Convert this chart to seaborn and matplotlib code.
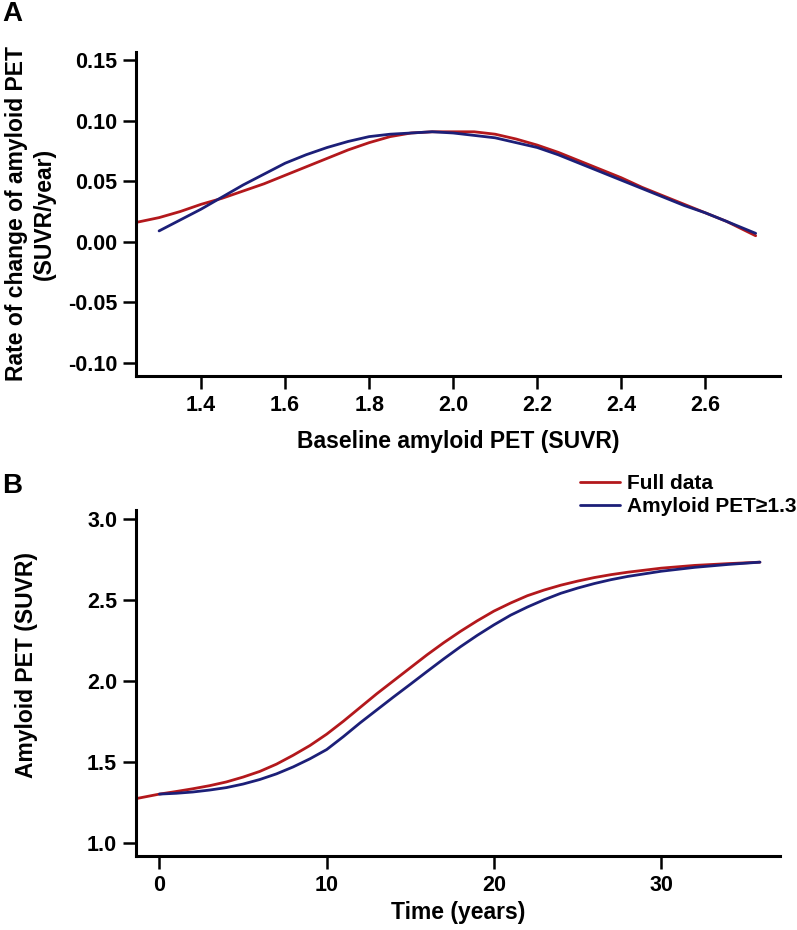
import pandas as pd
import seaborn as sns
import matplotlib.pyplot as plt

# Panel A: rate of change vs baseline amyloid PET
base_full = [1.245, 1.30, 1.35, 1.40, 1.45, 1.50, 1.55, 1.60, 1.65, 1.70, 1.75, 1.80,
             1.85, 1.90, 1.95, 2.00, 2.05, 2.10, 2.15, 2.20, 2.25, 2.30, 2.35, 2.40,
             2.45, 2.50, 2.55, 2.60, 2.65, 2.72]
rate_full = [0.016, 0.020, 0.025, 0.031, 0.036, 0.042, 0.048, 0.055, 0.062, 0.069, 0.076, 0.082,
             0.087, 0.090, 0.091, 0.091, 0.091, 0.089, 0.085, 0.080, 0.074, 0.067, 0.060, 0.053,
             0.045, 0.038, 0.031, 0.024, 0.017, 0.005]
base_sub = [1.30, 1.35, 1.40, 1.45, 1.50, 1.55, 1.60, 1.65, 1.70, 1.75, 1.80, 1.85,
            1.90, 1.95, 2.00, 2.05, 2.10, 2.15, 2.20, 2.25, 2.30, 2.35, 2.40, 2.45,
            2.50, 2.55, 2.60, 2.65, 2.72]
rate_sub = [0.009, 0.018, 0.027, 0.037, 0.047, 0.056, 0.065, 0.072, 0.078, 0.083, 0.087, 0.089,
            0.090, 0.091, 0.090, 0.088, 0.086, 0.082, 0.078, 0.072, 0.065, 0.058, 0.051, 0.044,
            0.037, 0.030, 0.024, 0.017, 0.007]

# Panel B: amyloid PET trajectory over time
time_full = [-1.4, 0, 1, 2, 3, 4, 5, 6, 7, 8, 9, 10, 11, 12, 13, 14, 15, 16, 17, 18,
             19, 20, 21, 22, 23, 24, 25, 26, 27, 28, 30, 32, 34, 35.9]
pet_full = [1.272, 1.300, 1.316, 1.333, 1.352, 1.375, 1.405, 1.440, 1.485, 1.540, 1.600,
            1.670, 1.750, 1.835, 1.920, 2.000, 2.080, 2.160, 2.235, 2.305, 2.370, 2.430,
            2.480, 2.525, 2.560, 2.590, 2.615, 2.637, 2.655, 2.670, 2.695, 2.712, 2.723, 2.732]
time_sub = [0, 1, 2, 3, 4, 5, 6, 7, 8, 9, 10, 11, 12, 13, 14, 15, 16, 17, 18,
            19, 20, 21, 22, 23, 24, 25, 26, 27, 28, 30, 32, 34, 35.9]
pet_sub = [1.300, 1.305, 1.313, 1.325, 1.340, 1.362, 1.390, 1.425, 1.468, 1.518, 1.575,
           1.655, 1.740, 1.820, 1.900, 1.978, 2.057, 2.135, 2.210, 2.280, 2.345, 2.405,
           2.455, 2.500, 2.540, 2.572, 2.600, 2.624, 2.644, 2.676, 2.700, 2.718, 2.732]

labels = ["Full data", "Amyloid PET\u22651.3"]
colors = {"Full data": "#B3181C", "Amyloid PET\u22651.3": "#1C1F78"}

df_a = pd.concat([
    pd.DataFrame({"x": base_full, "y": rate_full, "group": labels[0]}),
    pd.DataFrame({"x": base_sub, "y": rate_sub, "group": labels[1]}),
])
df_b = pd.concat([
    pd.DataFrame({"x": time_full, "y": pet_full, "group": labels[0]}),
    pd.DataFrame({"x": time_sub, "y": pet_sub, "group": labels[1]}),
])

sns.set_style("ticks")
plt.rcParams['font.family'] = ['Liberation Sans', 'DejaVu Sans']
plt.rcParams['font.weight'] = 'bold'
plt.rcParams['axes.labelweight'] = 'bold'
for k in ['text.color', 'axes.labelcolor', 'xtick.color', 'ytick.color', 'axes.edgecolor']:
    plt.rcParams[k] = 'black'

fig = plt.figure(figsize=(7.97, 9.30), dpi=100)
ax_a = fig.add_axes([0.1706, 0.5957, 0.8081, 0.3484])
ax_b = fig.add_axes([0.1706, 0.0796, 0.8081, 0.3720])

for ax, df in [(ax_a, df_a), (ax_b, df_b)]:
    sns.lineplot(data=df, x="x", y="y", hue="group", palette=colors, sort=False,
                 linewidth=2.0, ax=ax, legend=False)
    sns.despine(ax=ax)
    for s in ["left", "bottom"]:
        ax.spines[s].set_linewidth(2.2)
    ax.tick_params(width=1.8, length=9.5, labelsize=15.5, direction="out", pad=4)
    for lab in ax.get_xticklabels() + ax.get_yticklabels():
        lab.set_fontweight("bold")

ax_a.set_xlim(1.245, 2.778)
ax_a.set_ylim(-0.111, 0.157)
ax_a.set_xticks([1.4, 1.6, 1.8, 2.0, 2.2, 2.4, 2.6])
ax_a.set_xticklabels(["1.4", "1.6", "1.8", "2.0", "2.2", "2.4", "2.6"])
ax_a.set_yticks([-0.10, -0.05, 0.00, 0.05, 0.10, 0.15])
ax_a.set_yticklabels(["-0.10", "-0.05", "0.00", "0.05", "0.10", "0.15"])
ax_a.set_xlabel("Baseline amyloid PET (SUVR)", fontsize=16.5, labelpad=10)
ax_a.set_ylabel("Rate of change of amyloid PET\n(SUVR/year)", fontsize=16.5,
                linespacing=1.3)
ax_a.yaxis.set_label_coords(-0.124, 0.5)

ax_b.set_xlim(-1.4, 37.1)
ax_b.set_ylim(0.918, 3.054)
ax_b.set_xticks([0, 10, 20, 30])
ax_b.set_yticks([1.0, 1.5, 2.0, 2.5, 3.0])
ax_b.set_yticklabels(["1.0", "1.5", "2.0", "2.5", "3.0"])
ax_b.set_xlabel("Time (years)", fontsize=16.5, labelpad=4)
ax_b.set_ylabel("Amyloid PET (SUVR)", fontsize=16.5)
ax_b.yaxis.set_label_coords(-0.152, 0.552)

handles = ax_b.get_lines()[:2]
fig.legend(handles, labels, loc="upper left", bbox_to_anchor=(0.728, 0.490),
           frameon=False, fontsize=15, handlelength=1.9, handletextpad=0.35,
           labelspacing=0.2, borderaxespad=0, borderpad=0)

fig.text(0.003, 0.999, "A", fontsize=20, fontweight="bold", va="top", ha="left")
fig.text(0.003, 0.491, "B", fontsize=20, fontweight="bold", va="top", ha="left")

fig.savefig("out.png", dpi=100)
